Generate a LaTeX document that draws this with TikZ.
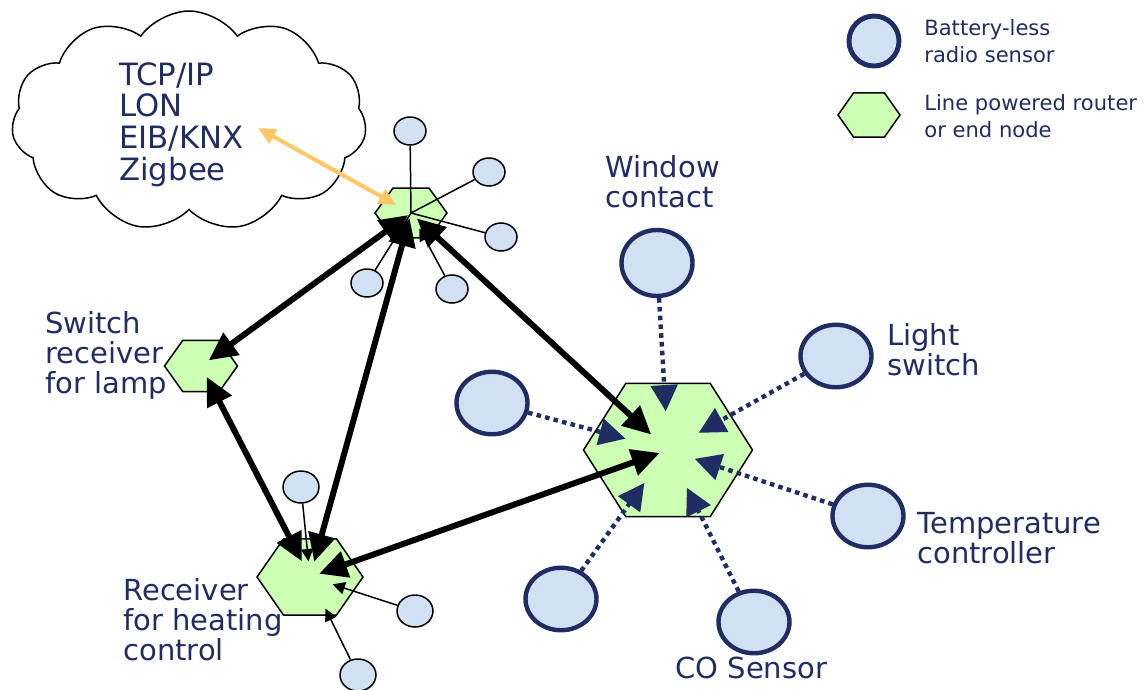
\documentclass[tikz,border=0pt]{standalone}
\usepackage{fontspec}
\setmainfont{DejaVu Sans}
\usetikzlibrary{shapes.geometric}
\usetikzlibrary{shapes.symbols}
\usetikzlibrary{arrows.meta}
\definecolor{navy}{RGB}{31,45,100}
\definecolor{sensorfill}{RGB}{210,224,243}
\definecolor{routerfill}{RGB}{204,255,180}
\definecolor{linkorange}{RGB}{255,200,100}
\tikzset{
    router/.style={regular polygon, regular polygon sides=6, draw, line width=.85pt,
        fill=routerfill, inner sep=0pt},
    sensor/.style={ellipse, draw=navy, line width=2.5pt, fill=sensorfill,
        minimum width=1.42cm, minimum height=1.25cm, inner sep=0pt},
    tag/.style={ellipse, draw, line width=.85pt, fill=sensorfill,
        minimum width=.64cm, minimum height=.56cm, inner sep=0pt},
    labeltext/.style={text=navy, align=left, anchor=base west, inner sep=0pt,
        font=\fontsize{16.5}{17}\selectfont},
    legendtext/.style={labeltext, font=\fontsize{12}{15.3}\selectfont},
    backbone/.style={line width=3.4pt,
        {Triangle[length=16pt,width=15pt]}-{Triangle[length=16pt,width=15pt]}},
    radio/.style={navy, line width=2.5pt, dash pattern=on 2.6pt off 2.4pt,
        -{Triangle[length=15pt,width=15pt]}},
    wire/.style={line width=.85pt, -{Triangle[length=7pt,width=7pt]}},
    uplink/.style={linkorange, line width=2.3pt,
        {Triangle[length=10pt,width=9pt]}-{Triangle[length=10pt,width=9pt]}},
}
\begin{document}
\begin{tikzpicture}[x=0.02cm,y=-0.02cm]
        \useasboundingbox (0,0) rectangle (1147,690);
        % Wolke mit Protokollen
        \node[cloud, draw, line width=.85pt, cloud puffs=11, cloud puff arc=110,
            cloud ignores aspect, minimum width=7.1cm, minimum height=4.4cm] (cloud) at (189,121) {};
        \node[labeltext, font=\fontsize{17.5}{18}\selectfont] (protocols) at (119,180)
            {TCP/IP\\LON\\EIB/KNX\\Zigbee};
        \coordinate (cloudend) at (258,128);
        % Router
        \node[router, minimum size=1.44cm, yscale=.8] (T) at (411,213) {};
        \node[router, minimum size=1.46cm, yscale=.81] (S) at (201,366) {};
        \node[router, minimum size=2.12cm, yscale=.83] (R) at (310,577) {};
        \node[router, minimum size=3.38cm, yscale=.91] (B) at (668,450) {};
        % Sensoren am oberen Router
        \node[tag] (t1) at (410,131) {};
        \node[tag] (t2) at (489,172) {};
        \node[tag] (t3) at (501,237) {};
        \node[tag] (t4) at (367,283) {};
        \node[tag] (t5) at (452,289) {};
        % Sensoren am Heizungsempfaenger
        \node[tag, minimum width=.72cm, minimum height=.64cm] (r1) at (301,487) {};
        \node[tag, minimum width=.72cm, minimum height=.64cm] (r2) at (415,611) {};
        \node[tag, minimum width=.72cm, minimum height=.64cm] (r3) at (358,675) {};
        % Funksensoren
        \node[sensor, minimum height=1.32cm] (window) at (657,263) {};
        \node[sensor] (light) at (836,356) {};
        \node[sensor] (left) at (492,403) {};
        \node[sensor] (temp) at (868,516) {};
        \node[sensor] (co) at (754,622) {};
        \node[sensor] (lower) at (561,599) {};
        % Verbindungen
        \draw[uplink, shorten >=9.5pt] (cloudend) -- (T.center);
        \draw[wire, shorten >=10pt]
        (t1) -- (T.center)
        (t2) -- (T.center)
        (t3) -- (T.center)
        (t4) -- (T.center)
        (t5) -- (T.center)
        ;
        \draw[wire, shorten >=9pt] (r1) -- (R.center);
        \draw[wire, shorten >=13.5pt] (r2) -- (R.center);
        \draw[wire, shorten >=20pt] (r3) -- (R.center);
        \draw[backbone, shorten <=2pt, shorten >=5.5pt] (T.center) -- (S.center);
        \draw[backbone, shorten <=7pt, shorten >=10pt] (S.center) -- (R.center);
        \draw[backbone, shorten <=3pt, shorten >=9pt] (T.center) -- (R.center);
        \draw[backbone, shorten <=4.5pt, shorten >=13pt] (T.center) -- (B.center);
        \draw[backbone, shorten <=5.5pt, shorten >=5pt] (R.center) -- (B.center);
        \draw[radio, shorten >=22pt] (window) -- (B.center);
        \draw[radio, shorten >=20pt] (light) -- (B.center);
        \draw[radio, shorten >=25pt] (left) -- (B.center);
        \draw[radio, shorten >=16pt] (temp) -- (B.center);
        \draw[radio, shorten >=24pt] (co) -- (B.center);
        \draw[radio, shorten >=23pt] (lower) -- (B.center);
        % Beschriftungen
        \node[labeltext] (windowlabel) at (605,207) {Window\\contact};
        \node[labeltext] (lightlabel) at (887,375) {Light\\switch};
        \node[labeltext] (switchlabel) at (45,393) {Switch\\receiver\\for lamp};
        \node[labeltext] (heatinglabel) at (123,660) {Receiver\\for heating\\control};
        \node[labeltext] (templabel) at (917,563) {Temperature\\controller};
        \node[labeltext] (colabel) at (675,678) {CO Sensor};
        % Legende
        \node[sensor, line width=2.8pt, minimum width=1cm, minimum height=1cm] (keysensor) at (874,41) {};
        \node[router, minimum size=1.24cm, yscale=.82] (keyrouter) at (869,115) {};
        \node[legendtext] (keysensortext) at (924,62) {Battery-less\\radio sensor};
        \node[legendtext] (keyroutertext) at (924,137) {Line powered router\\or end node};
    \end{tikzpicture}
\end{document}
